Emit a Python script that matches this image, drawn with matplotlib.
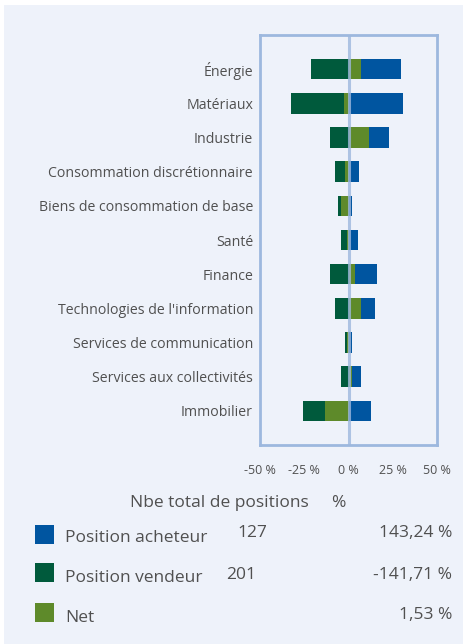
import matplotlib
matplotlib.use("Agg")
import matplotlib.pyplot as plt
from matplotlib.patches import Rectangle
from matplotlib import font_manager

names = {f.name for f in font_manager.fontManager.ttflist}
FAM = ['Liberation Sans Narrow'] if 'Liberation Sans Narrow' in names else ['Open Sans']
plt.rcParams['font.family'] = FAM + ['DejaVu Sans']

categories = ["Énergie", "Matériaux", "Industrie", "Consommation discrétionnaire",
              "Biens de consommation de base", "Santé", "Finance",
              "Technologies de l'information", "Services de communication",
              "Services aux collectivités", "Immobilier"]
acheteur = [29.8, 30.9, 23.0, 6.2, 1.7, 5.1, 16.3, 15.2, 1.7, 7.3, 12.9]
vendeur = [-21.3, -32.6, -10.7, -7.9, -6.2, -4.5, -10.7, -7.9, -1.7, -4.5, -25.8]
net = [7.3, -2.6, 11.8, -1.7, -4.5, -1.1, 3.9, 7.3, -1.0, 1.7, -13.5]
xticks = [-50, -25, 0, 25, 50]
xtick_labels = ["-50 %", "-25 %", "0 %", "25 %", "50 %"]

legend_labels = ["Position acheteur", "Position vendeur", "Net"]
legend_counts = ["127", "201", ""]
legend_pcts = ["143,24 %", "-141,71 %", "1,53 %"]

C_BUY = "#0055A0"
C_SELL = "#005A3C"
C_NET = "#5E8A2A"
C_BG = "#EEF2FA"
C_FRAME = "#9DB8DE"
C_TXT = "#505050"

W, H = 463, 644
fig = plt.figure(figsize=(W / 100, H / 100), dpi=100, facecolor="white")
fig.patches.append(Rectangle((4 / W, 0), 1, 1 - 5 / H, transform=fig.transFigure,
                             facecolor=C_BG, edgecolor="none", zorder=-10))

ax = fig.add_axes([260 / W, 1 - 445 / H, 177 / W, 410 / H])
ax.set_zorder(1)
ax.set_facecolor(C_BG)
y = list(range(len(categories)))
ax.barh(y, vendeur, height=0.6, color=C_SELL, zorder=2)
ax.barh(y, acheteur, height=0.6, color=C_BUY, zorder=2)
ax.barh(y, net, height=0.6, color=C_NET, zorder=3)
ax.axvline(0, color=C_FRAME, lw=2.2, alpha=0.8, zorder=4)
ax.set_xlim(-50, 50)
ax.set_ylim(len(categories), -1)
ax.set_yticks(y)
ax.set_yticklabels(categories, fontsize=10.2, color=C_TXT)
ax.set_xticks(xticks)
ax.set_xticklabels(xtick_labels, fontsize=9, color=C_TXT)
ax.tick_params(axis="both", length=0)
ax.tick_params(axis="y", pad=5)
ax.tick_params(axis="x", pad=14)
for s in ax.spines.values():
    s.set_color(C_FRAME)
    s.set_linewidth(2)

def fx(px):
    return px / W

def fy(py):
    return 1 - py / H

fig.text(fx(130), fy(503), "Nbe total de positions", fontsize=12.5, color=C_TXT, va="center", ha="left")
fig.text(fx(338), fy(503), "%", fontsize=12.5, color=C_TXT, va="center", ha="center")

sq_top = [525, 563, 603]
lab_y = [538, 578, 618]
val_y = [533, 575, 615]
count_x = [252, 241, 241]
colors = [C_BUY, C_SELL, C_NET]
for i in range(3):
    fig.patches.append(Rectangle((fx(35), fy(sq_top[i] + 19)), 19 / W, 19 / H,
                                 transform=fig.transFigure, facecolor=colors[i],
                                 edgecolor="none", zorder=2))
    fig.text(fx(65), fy(lab_y[i]), legend_labels[i], fontsize=12.5, color=C_TXT, va="center", ha="left")
    if legend_counts[i]:
        fig.text(fx(count_x[i]), fy(val_y[i]), legend_counts[i], fontsize=12.5, color=C_TXT, va="center", ha="center")
    fig.text(fx(452), fy(val_y[i]), legend_pcts[i], fontsize=12.5, color=C_TXT, va="center", ha="right")

fig.savefig("out.png", dpi=100, facecolor="white")
